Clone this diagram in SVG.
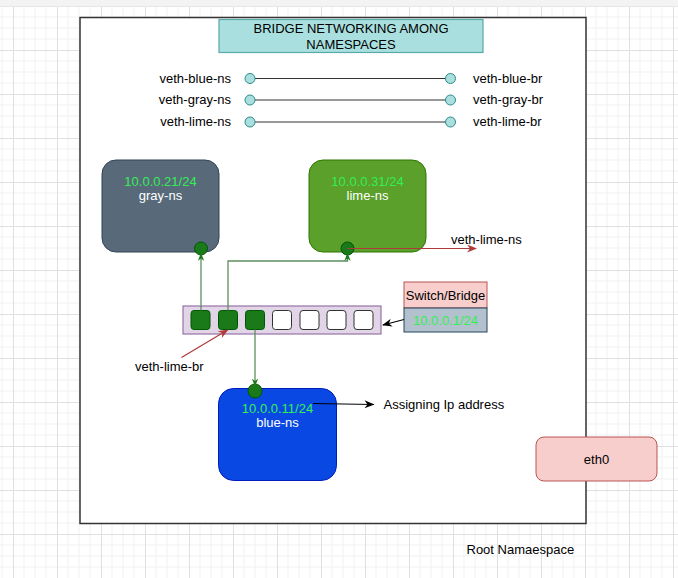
<svg xmlns="http://www.w3.org/2000/svg" width="678" height="578" viewBox="0 0 678 578">
<style>
text{font-family:"Liberation Sans",Arial,sans-serif;font-size:13px;}
.lbl{fill:#000;}
.ip{fill:#33EE55;}
.wt{fill:#fff;}
.end{fill:#a9dfdf;stroke:#2e8a8a;stroke-width:1;}
.pair{stroke:#333;stroke-width:1.2;fill:none;}
.gline{stroke:#5e8f5e;stroke-width:1.3;fill:none;}
.rline{stroke:#b03a3a;stroke-width:1.2;fill:none;}
.kline{stroke:#000;stroke-width:1.2;fill:none;}
.dot{fill:#1a7a1a;stroke:#005700;stroke-width:1;}
.pg{fill:#1a7a1a;stroke:#005700;stroke-width:1;}
.pw{fill:#fff;stroke:#333;stroke-width:1;}
</style>
<defs>
<pattern id="grid" width="44" height="44" x="13" y="6" patternUnits="userSpaceOnUse">
<path d="M11 0V44M22 0V44M33 0V44M0 11H44M0 22H44M0 33H44" stroke="#f1f1f1" stroke-width="1" fill="none"/>
<path d="M0.5 0V44M0 0.5H44" stroke="#e0e0e0" stroke-width="1" fill="none"/>
</pattern>
<marker id="mg" viewBox="0 0 10 8" refX="8" refY="4" markerWidth="8" markerHeight="7" markerUnits="userSpaceOnUse" orient="auto"><path d="M0,0L10,4L0,8L3,4z" fill="#1a7a1a"/></marker>
<marker id="mr" viewBox="0 0 10 8" refX="9" refY="4" markerWidth="11" markerHeight="8" markerUnits="userSpaceOnUse" orient="auto"><path d="M0,0L10,4L0,8L3,4z" fill="#b03a3a"/></marker>
<marker id="mk" viewBox="0 0 10 8" refX="9" refY="4" markerWidth="11" markerHeight="8" markerUnits="userSpaceOnUse" orient="auto"><path d="M0,0L10,4L0,8L3,4z" fill="#000"/></marker>
</defs>
<rect width="678" height="578" fill="#fff"/>
<rect x="0" y="6" width="678" height="572" fill="url(#grid)"/>
<rect x="0" y="0" width="678" height="6" fill="#f3f3f3"/>
<line x1="0" y1="6.5" x2="678" y2="6.5" stroke="#e6e6e6"/>

<g id="root-namespace">
<rect x="80" y="17.5" width="506" height="506" fill="#fff" stroke="#333" stroke-width="1.5"/>
<text x="466.5" y="554" class="lbl">Root Namaespace</text>
</g>

<g id="title">
<rect x="219" y="19.5" width="264" height="33" fill="#a9dfdf" stroke="#5aa8a8" stroke-width="1.2"/>
<text x="351" y="32.5" text-anchor="middle" class="lbl">BRIDGE NETWORKING AMONG</text>
<text x="351" y="49" text-anchor="middle" class="lbl">NAMESPACES</text>
</g>

<g id="veth-pairs">
<text x="231" y="82.5" text-anchor="end" class="lbl">veth-blue-ns</text>
<text x="231" y="104" text-anchor="end" class="lbl">veth-gray-ns</text>
<text x="231" y="126" text-anchor="end" class="lbl">veth-lime-ns</text>
<text x="473" y="82.5" class="lbl">veth-blue-br</text>
<text x="473" y="104" class="lbl">veth-gray-br</text>
<text x="473" y="126" class="lbl">veth-lime-br</text>
</g>

<g id="gray-ns">
<rect x="102" y="160" width="117" height="92" rx="14" fill="#586a7a" stroke="#314354" stroke-width="1"/>
<text x="160.5" y="186" text-anchor="middle" class="ip">10.0.0.21/24</text>
<text x="160.5" y="200" text-anchor="middle" class="wt">gray-ns</text>
<circle cx="201" cy="248.5" r="6.5" class="dot"/>
</g>

<g id="lime-ns">
<rect x="309" y="160" width="117" height="92" rx="14" fill="#5aa02a" stroke="#2d7600" stroke-width="1"/>
<text x="367.5" y="186" text-anchor="middle" class="ip">10.0.0.31/24</text>
<text x="367.5" y="200" text-anchor="middle" class="wt">lime-ns</text>
<circle cx="347.5" cy="248.5" r="6.5" class="dot"/>
</g>

<g id="blue-ns">
<rect x="218.5" y="388.5" width="118" height="92" rx="15" fill="#0a48e4" stroke="#001dbc" stroke-width="1"/>
<text x="277.5" y="413" text-anchor="middle" class="ip">10.0.0.11/24</text>
<text x="277.5" y="427" text-anchor="middle" class="wt">blue-ns</text>
<circle cx="255" cy="391" r="7" class="dot"/>
</g>

<g id="switch">
<rect x="183" y="306" width="198" height="28" fill="#e1d5e7" stroke="#9673a6" stroke-width="1.2"/>
<rect x="191" y="310.5" width="19" height="19" rx="3" class="pg"/>
<rect x="218.5" y="310.5" width="19" height="19" rx="3" class="pg"/>
<rect x="245.5" y="310.5" width="19" height="19" rx="3" class="pg"/>
<rect x="272.5" y="310.5" width="19" height="19" rx="3" class="pw"/>
<rect x="300" y="310.5" width="19" height="19" rx="3" class="pw"/>
<rect x="327" y="310.5" width="19" height="19" rx="3" class="pw"/>
<rect x="354" y="310.5" width="19" height="19" rx="3" class="pw"/>
</g>

<g id="switch-label">
<rect x="404" y="282" width="83" height="26" fill="#f8cecc" stroke="#b85450" stroke-width="1"/>
<text x="445.5" y="299.5" text-anchor="middle" class="lbl">Switch/Bridge</text>
<rect x="404" y="308" width="83" height="24" fill="#b2c1cd" stroke="#23445d" stroke-width="1"/>
<text x="445.5" y="324.5" text-anchor="middle" class="ip">10.0.0.1/24</text>
</g>

<g id="eth0">
<rect x="536" y="437" width="121" height="44" rx="8" fill="#f8cecc" stroke="#b85450" stroke-width="1"/>
<text x="596.5" y="463.5" text-anchor="middle" class="lbl">eth0</text>
</g>

<g id="labels">
<text x="451" y="244" class="lbl">veth-lime-ns</text>
<text x="135" y="370.5" class="lbl">veth-lime-br</text>
<text x="383.5" y="409" class="lbl">Assigning Ip address</text>
</g>

<g id="connectors">
<line x1="255" y1="78.5" x2="446" y2="78.5" class="pair"/>
<line x1="255" y1="100" x2="446" y2="100" class="pair"/>
<line x1="255" y1="122" x2="446" y2="122" class="pair"/>
<circle cx="250" cy="78.5" r="5" class="end"/>
<circle cx="450.5" cy="78.5" r="5" class="end"/>
<circle cx="250" cy="100" r="5" class="end"/>
<circle cx="450.5" cy="100" r="5" class="end"/>
<circle cx="250" cy="122" r="5" class="end"/>
<circle cx="450.5" cy="122" r="5" class="end"/>
<path d="M201 310.5V254.5" class="gline" marker-end="url(#mg)"/>
<path d="M228 310.5V261H347.5V254.5" class="gline" marker-end="url(#mg)"/>
<path d="M255 329.5V385" class="gline" marker-end="url(#mg)"/>
<path d="M347.5 248.5H476" class="rline" marker-end="url(#mr)"/>
<path d="M181.5 357.5L227.5 330" class="rline" marker-end="url(#mr)"/>
<path d="M404 319.5L383 325" class="kline" marker-end="url(#mk)"/>
<path d="M313 403.5L373.5 404.5" class="kline" marker-end="url(#mk)"/>
</g>
</svg>
